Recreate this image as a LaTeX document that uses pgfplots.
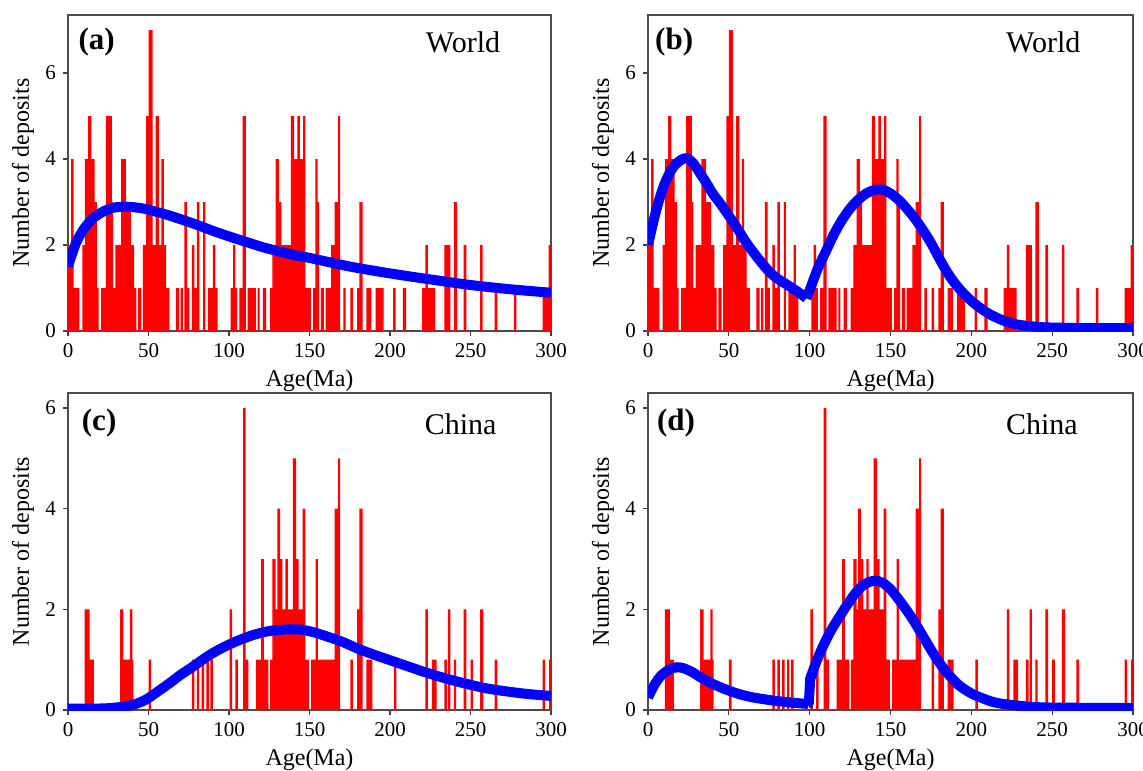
\documentclass[border=0pt]{standalone}
\usepackage{fontspec}
\setmainfont{Liberation Serif}
\usepackage{pgfplots}
\usepackage{pgfplotstable}
\pgfplotsset{compat=1.18}

% deposit counts, change points: count h holds from x to the next x
\pgfplotstableread{
x h
0 2
2 4
3.5 1
7 0
9 2
10.5 4
12.5 5
14.5 4
16.5 3
18 1
19 0
20.5 1
23.5 5
27.2 3
28 1
29.5 2
33 4
36 3
39 2
41 1
42.5 0
43.5 1
45.5 0
46.5 2
48.5 5
50 7
52.5 2
54.5 5
56.5 2
58 4
59.5 2
61 1
63 0
67 1
69 0
70 1
71.3 0
72.3 3
74 1
75.4 0
77 2
78.5 1
80 3
81.6 0
84 3
85.3 0
86.8 1
90 2
91.5 1
93 0
101 1
102.5 2
104 1
105 0
106.4 1
108.5 5
110.5 0
111.6 1
116.7 0
117.8 1
119 0
121 1
123 0
125.4 1
127 2
129 4
131 3
132.5 2
138.5 5
140.5 4
142.5 5
144 4
146 5
147.5 1
150.8 0
152.3 1
153.7 4
155 3
156 0
157 1
159 0
160 1
163.5 2
165.6 3
167.7 5
169 0
171 1
172.5 0
175.4 1
177 0
179.6 1
181 3
183 0
185.4 1
188.5 0
191 1
196 0
202 1
203.5 0
208 1
210 0
220 1
222 2
223.5 1
228 0
233.7 2
237.5 0
239.6 3
241.7 0
245.8 2
247.5 0
256 2
257.5 0
265 1
266.7 0
277 1
278.5 0
294.8 1
298.5 2
300 2
}\worldhist

\pgfplotstableread{
x h
0 0
10.4 2
13.5 1
16 0
32.3 2
34.4 1
38.5 2
40 1
40.6 0
50 1
51.7 0
77 1
78.5 0
80 1
81.5 0
83 1
84.5 0
86 1
87.5 0
88.5 1
90 0
100.4 2
102 0
104 1
105.5 0
108.7 6
110.4 1
112 0
116.7 1
120 3
121.7 1
124.5 0
125.5 1
127 3
129 2
130 4
131.7 3
133.2 2
135 3
136.5 2
139.6 5
141.7 3
143.2 2
145.8 4
147.5 1
149.6 0
151 1
153.75 3
155.2 1
165.6 4
167.7 5
169 0
175.4 1
177 0
179.6 2
181 4
183 0
185.4 1
189 0
202.5 1
204 0
222 2
223.5 0
226 1
229 0
233.75 1
235.4 0
236 2
237.5 0
239.6 1
241 0
245.8 2
247.5 0
250 1
251.7 0
256 2
258 0
265 1
266.7 0
294.8 1
296.4 0
298.8 1
300 1
}\chinahist

\pgfplotsset{
  agepanel/.style={
    scale only axis, width=241.5pt, height=158pt,
    xmin=0, xmax=300, ymin=0,
    xtick={0,50,...,300}, ytick={0,2,4,6},
    tick pos=left, tick align=outside, major tick length=2.5pt,
    every tick/.style={black!75, line width=0.6pt},
    axis line style={black!70, line width=0.7pt},
    tick label style={font=\fontsize{10.5}{12}\selectfont},
    /pgf/number format/assume math mode=true,
    xlabel={Age(Ma)}, ylabel={Number of deposits},
    label style={font=\fontsize{12}{14}\selectfont},
    xlabel style={at={(axis description cs:0.5,-0.156)}, anchor=center},
    ylabel style={at={(axis description cs:-0.093,0.5)}, anchor=center},
  },
  hist/.style={const plot, fill=red, draw=none},
  fit/.style={blue, line width=5pt, smooth, tension=0.5},
}
\tikzset{
  tag/.style={anchor=west, inner sep=0pt, font=\fontsize{15.5}{18}\selectfont\bfseries},
  region/.style={font=\fontsize{15}{18}\selectfont},
}

\begin{document}
\begin{tikzpicture}
\useasboundingbox (0,0) rectangle (571.5pt,-385pt);

% (a)
\begin{axis}[agepanel, at={(34pt,-7.5pt)}, anchor=north west, ymax=7.35]
\addplot[hist] table[x=x,y=h]{\worldhist} \closedcycle;
\addplot[fit] coordinates {
(0,1.5) (5,2.05) (10,2.38) (15,2.6) (20,2.74) (25,2.83) (30,2.88) (37,2.89)
(45,2.86) (50,2.82) (60,2.72) (70,2.6) (80,2.47) (90,2.33) (100,2.2)
(110,2.08) (120,1.96) (130,1.86) (140,1.77) (150,1.7) (175,1.5) (200,1.34)
(225,1.2) (250,1.07) (275,0.97) (300,0.89)};
\node[tag] at (rel axis cs:0.021,0.915) {(a)};
\node[region] at (rel axis cs:0.818,0.912) {World};
\end{axis}

% (b)
\begin{axis}[agepanel, at={(324pt,-7.5pt)}, anchor=north west, width=242.5pt, ymax=7.35]
\addplot[hist] table[x=x,y=h]{\worldhist} \closedcycle;
\addplot[fit] coordinates {
(0,2.0) (5,2.8) (10,3.4) (15,3.78) (20,3.97) (24,4.02) (28,3.9) (32,3.68)
(36,3.45) (40,3.2) (45,2.95) (50,2.68) (55,2.4) (60,2.1) (65,1.84) (70,1.6)
(75,1.38) (80,1.22) (85,1.1) (90,0.98) (95,0.85) (98,0.76)};
\addplot[fit] coordinates {
(98,0.76) (100,0.95) (105,1.45) (110,1.85) (115,2.25) (120,2.58) (125,2.85)
(130,3.05) (135,3.2) (140,3.28) (145,3.29) (150,3.2) (155,3.05) (160,2.85)
(165,2.62) (170,2.35) (175,2.05) (180,1.7) (185,1.37) (190,1.1) (195,0.88)
(200,0.7) (205,0.55) (210,0.42) (215,0.32) (220,0.24) (225,0.18) (230,0.14)
(240,0.1) (250,0.08) (275,0.07) (300,0.07)};
\node[tag] at (rel axis cs:0.014,0.915) {(b)};
\node[region] at (rel axis cs:0.815,0.912) {World};
\end{axis}

% (c)
\begin{axis}[agepanel, at={(34pt,-196.5pt)}, anchor=north west, height=158.5pt, ymax=6.3]
\addplot[hist] table[x=x,y=h]{\chinahist} \closedcycle;
\addplot[fit] coordinates {
(0,0.03) (20,0.03) (30,0.05) (40,0.1) (48,0.2) (55,0.35) (62.5,0.52) (70,0.7)
(77,0.85) (85,1.03) (92,1.17) (100,1.3) (108,1.41) (116,1.5) (125,1.57)
(135,1.6) (144,1.6) (152,1.55) (160,1.47) (170,1.36) (180,1.22) (190,1.1)
(200,0.99) (210,0.88) (220,0.77) (230,0.67) (240,0.58) (250,0.5) (260,0.43)
(270,0.38) (285,0.32) (300,0.28)};
\node[tag] at (rel axis cs:0.028,0.904) {(c)};
\node[region] at (rel axis cs:0.813,0.9) {China};
\end{axis}

% (d)
\begin{axis}[agepanel, at={(324pt,-196.5pt)}, anchor=north west, width=242.5pt, height=158.5pt, ymax=6.3]
\addplot[hist] table[x=x,y=h]{\chinahist} \closedcycle;
\addplot[fit] coordinates {
(0,0.25) (4,0.5) (8,0.68) (13,0.8) (18,0.85) (22,0.83) (27,0.76) (33,0.64)
(40,0.52) (48,0.41) (56,0.32) (65,0.25) (77,0.19) (88,0.15) (99,0.12)};
\addplot[blue, line width=5pt, line join=round] coordinates {(98.5,0.12) (99.5,0.14) (100.3,0.62) (101.5,0.72)};
\addplot[fit] coordinates {
(100.3,0.62) (104,0.95) (108,1.25) (113,1.57) (118.75,1.87) (124,2.13)
(129,2.35) (134,2.5) (140,2.57) (145,2.53) (150,2.4) (155,2.2) (160,1.98)
(165,1.74) (170,1.47) (175,1.2) (180,0.95) (185,0.74) (192,0.5) (200,0.33)
(208,0.22) (216,0.14) (231,0.08) (248,0.05) (300,0.04)};
\node[tag] at (rel axis cs:0.018,0.904) {(d)};
\node[region] at (rel axis cs:0.812,0.9) {China};
\end{axis}
\end{tikzpicture}
\end{document}
